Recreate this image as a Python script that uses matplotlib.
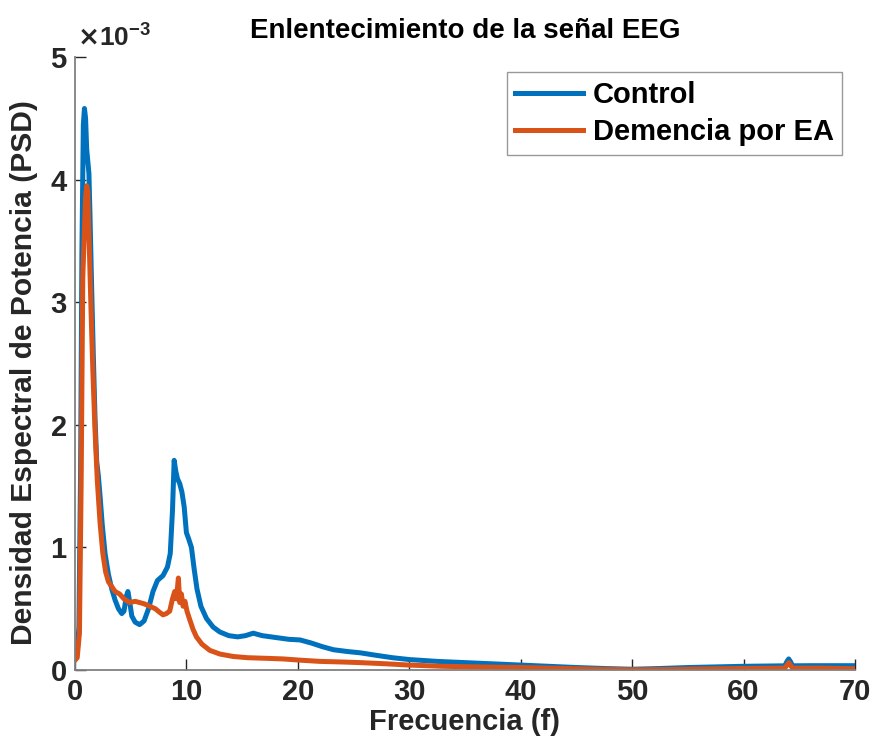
import matplotlib.pyplot as plt

plt.rcParams['font.family'] = ['Liberation Sans', 'DejaVu Sans']
plt.rcParams['font.weight'] = 'bold'

# frequency (Hz) and PSD (x1e-3)
f_control = [0, 0.2, 0.35, 0.5, 0.62, 0.75, 0.85, 0.95, 1.05, 1.15, 1.25, 1.35, 1.5,
             1.65, 1.8, 1.95, 2.1, 2.25, 2.45, 2.7, 3.0, 3.3, 3.6, 3.9, 4.2, 4.4,
             4.6, 4.75, 4.9, 5.1, 5.4, 5.8, 6.2, 6.6, 7.0, 7.4, 7.9, 8.3, 8.55,
             8.75, 8.9, 9.05, 9.2, 9.4, 9.6, 9.8, 10.0, 10.2, 10.45, 10.7, 10.95,
             11.3, 11.8, 12.4, 13.0, 13.8, 14.6, 15.3, 16.0, 16.8, 17.6, 18.4,
             19.2, 20.2, 21.2, 22.2, 23.2, 24.5, 25.6, 27.0, 28.5, 30.0, 32.5,
             35.0, 37.5, 40.0, 42.5, 45.0, 47.5, 50.0, 52.5, 55.0, 57.5, 60.0,
             62.0, 63.7, 63.9, 64.05, 64.2, 64.4, 66.0, 68.0, 70.0]
psd_control = [0.10, 0.15, 0.35, 1.6, 3.4, 4.45, 4.58, 4.50, 4.25, 4.15, 4.05, 3.70,
               3.10, 2.55, 2.05, 1.70, 1.58, 1.42, 1.18, 0.95, 0.78, 0.66, 0.57,
               0.50, 0.46, 0.48, 0.60, 0.64, 0.56, 0.44, 0.39, 0.37, 0.40, 0.50,
               0.64, 0.73, 0.77, 0.84, 0.95, 1.30, 1.71, 1.62, 1.56, 1.52, 1.45,
               1.33, 1.12, 1.07, 1.00, 0.82, 0.66, 0.52, 0.42, 0.35, 0.31, 0.28,
               0.27, 0.28, 0.30, 0.28, 0.27, 0.26, 0.25, 0.245, 0.22, 0.19, 0.165,
               0.15, 0.14, 0.12, 0.10, 0.085, 0.07, 0.06, 0.05, 0.04, 0.03, 0.02,
               0.012, 0.006, 0.012, 0.02, 0.025, 0.03, 0.032, 0.034, 0.07, 0.09,
               0.07, 0.034, 0.035, 0.035, 0.035]

f_dementia = [0, 0.2, 0.4, 0.55, 0.7, 0.85, 0.95, 1.05, 1.15, 1.3, 1.45, 1.6, 1.8,
              2.0, 2.25, 2.5, 2.75, 3.0, 3.3, 3.6, 4.0, 4.4, 4.9, 5.4, 5.8, 6.2,
              6.7, 7.2, 7.6, 7.9, 8.2, 8.5, 8.75, 8.95, 9.1, 9.28, 9.4, 9.55,
              9.7, 9.87, 10.05, 10.3, 10.6, 10.9, 11.4, 12.1, 13.0, 14.2, 15.5,
              17.2, 18.7, 20.2, 22.0, 24.0, 25.6, 28.0, 30.0, 33.0, 36.0, 40.0,
              44.0, 47.0, 50.0, 53.0, 56.0, 60.0, 63.7, 63.9, 64.05, 64.2, 64.4,
              67.0, 70.0]
psd_dementia = [0.08, 0.10, 0.30, 1.50, 3.20, 3.60, 3.85, 3.95, 3.90, 3.40, 2.90,
                2.45, 1.95, 1.55, 1.20, 0.95, 0.80, 0.72, 0.68, 0.64, 0.62, 0.58,
                0.55, 0.56, 0.55, 0.54, 0.52, 0.50, 0.47, 0.45, 0.46, 0.48, 0.58,
                0.64, 0.58, 0.75, 0.55, 0.62, 0.52, 0.56, 0.48, 0.41, 0.33, 0.27,
                0.21, 0.16, 0.13, 0.11, 0.10, 0.095, 0.09, 0.08, 0.07, 0.065, 0.06,
                0.05, 0.04, 0.03, 0.025, 0.02, 0.012, 0.006, 0.002, 0.004, 0.008,
                0.012, 0.015, 0.04, 0.06, 0.04, 0.015, 0.015, 0.01]

series_labels = ['Control', 'Demencia por EA']
x_ticks = [0, 10, 20, 30, 40, 50, 60, 70]
y_ticks = [0, 1, 2, 3, 4, 5]

fig = plt.figure(figsize=(8.76, 7.5), dpi=100)
ax = fig.add_axes([0.0856, 0.1067, 0.8904, 0.8173])

ax.plot(f_control, [v * 1e-3 for v in psd_control], color='#0072BD', lw=3.6,
        label=series_labels[0])
ax.plot(f_dementia, [v * 1e-3 for v in psd_dementia], color='#D95319', lw=3.6,
        label=series_labels[1])

ax.set_xlim(0, 70)
ax.set_ylim(0, 5e-3)
ax.set_xticks(x_ticks)
ax.set_xticklabels([str(t) for t in x_ticks])
ax.set_yticks([t * 1e-3 for t in y_ticks])
ax.set_yticklabels([str(t) for t in y_ticks])

for s in ['top', 'right']:
    ax.spines[s].set_visible(False)
for s in ['left', 'bottom']:
    ax.spines[s].set_color('#808080')
    ax.spines[s].set_linewidth(1.3)
ax.tick_params(direction='in', length=8, width=1, color='#262626',
               labelcolor='#262626', labelsize=21, pad=6)

ax.text(0.002, 1.01, r'$\times$10$^{\mathregular{-3}}$', transform=ax.transAxes,
        fontsize=19, color='#262626', ha='left', va='bottom')

ax.set_title('Enlentecimiento de la señal EEG', fontsize=20, fontweight='bold',
             pad=14)
ax.set_xlabel('Frecuencia (f)', fontsize=21, fontweight='bold', color='#262626',
              labelpad=1)
ax.set_ylabel('Densidad Espectral de Potencia (PSD)', fontsize=21.6,
              fontweight='bold', color='#262626')
ax.yaxis.set_label_coords(-0.047, 0.485)

leg = ax.legend(loc='upper right', bbox_to_anchor=(0.984, 0.975), fontsize=21,
                frameon=True, fancybox=False, handlelength=2.3,
                borderpad=0.3, labelspacing=0.3, handletextpad=0.35,
                borderaxespad=0.0)
leg.get_frame().set_edgecolor('#808080')
leg.get_frame().set_linewidth(1.0)

fig.savefig('out.png', dpi=100)
